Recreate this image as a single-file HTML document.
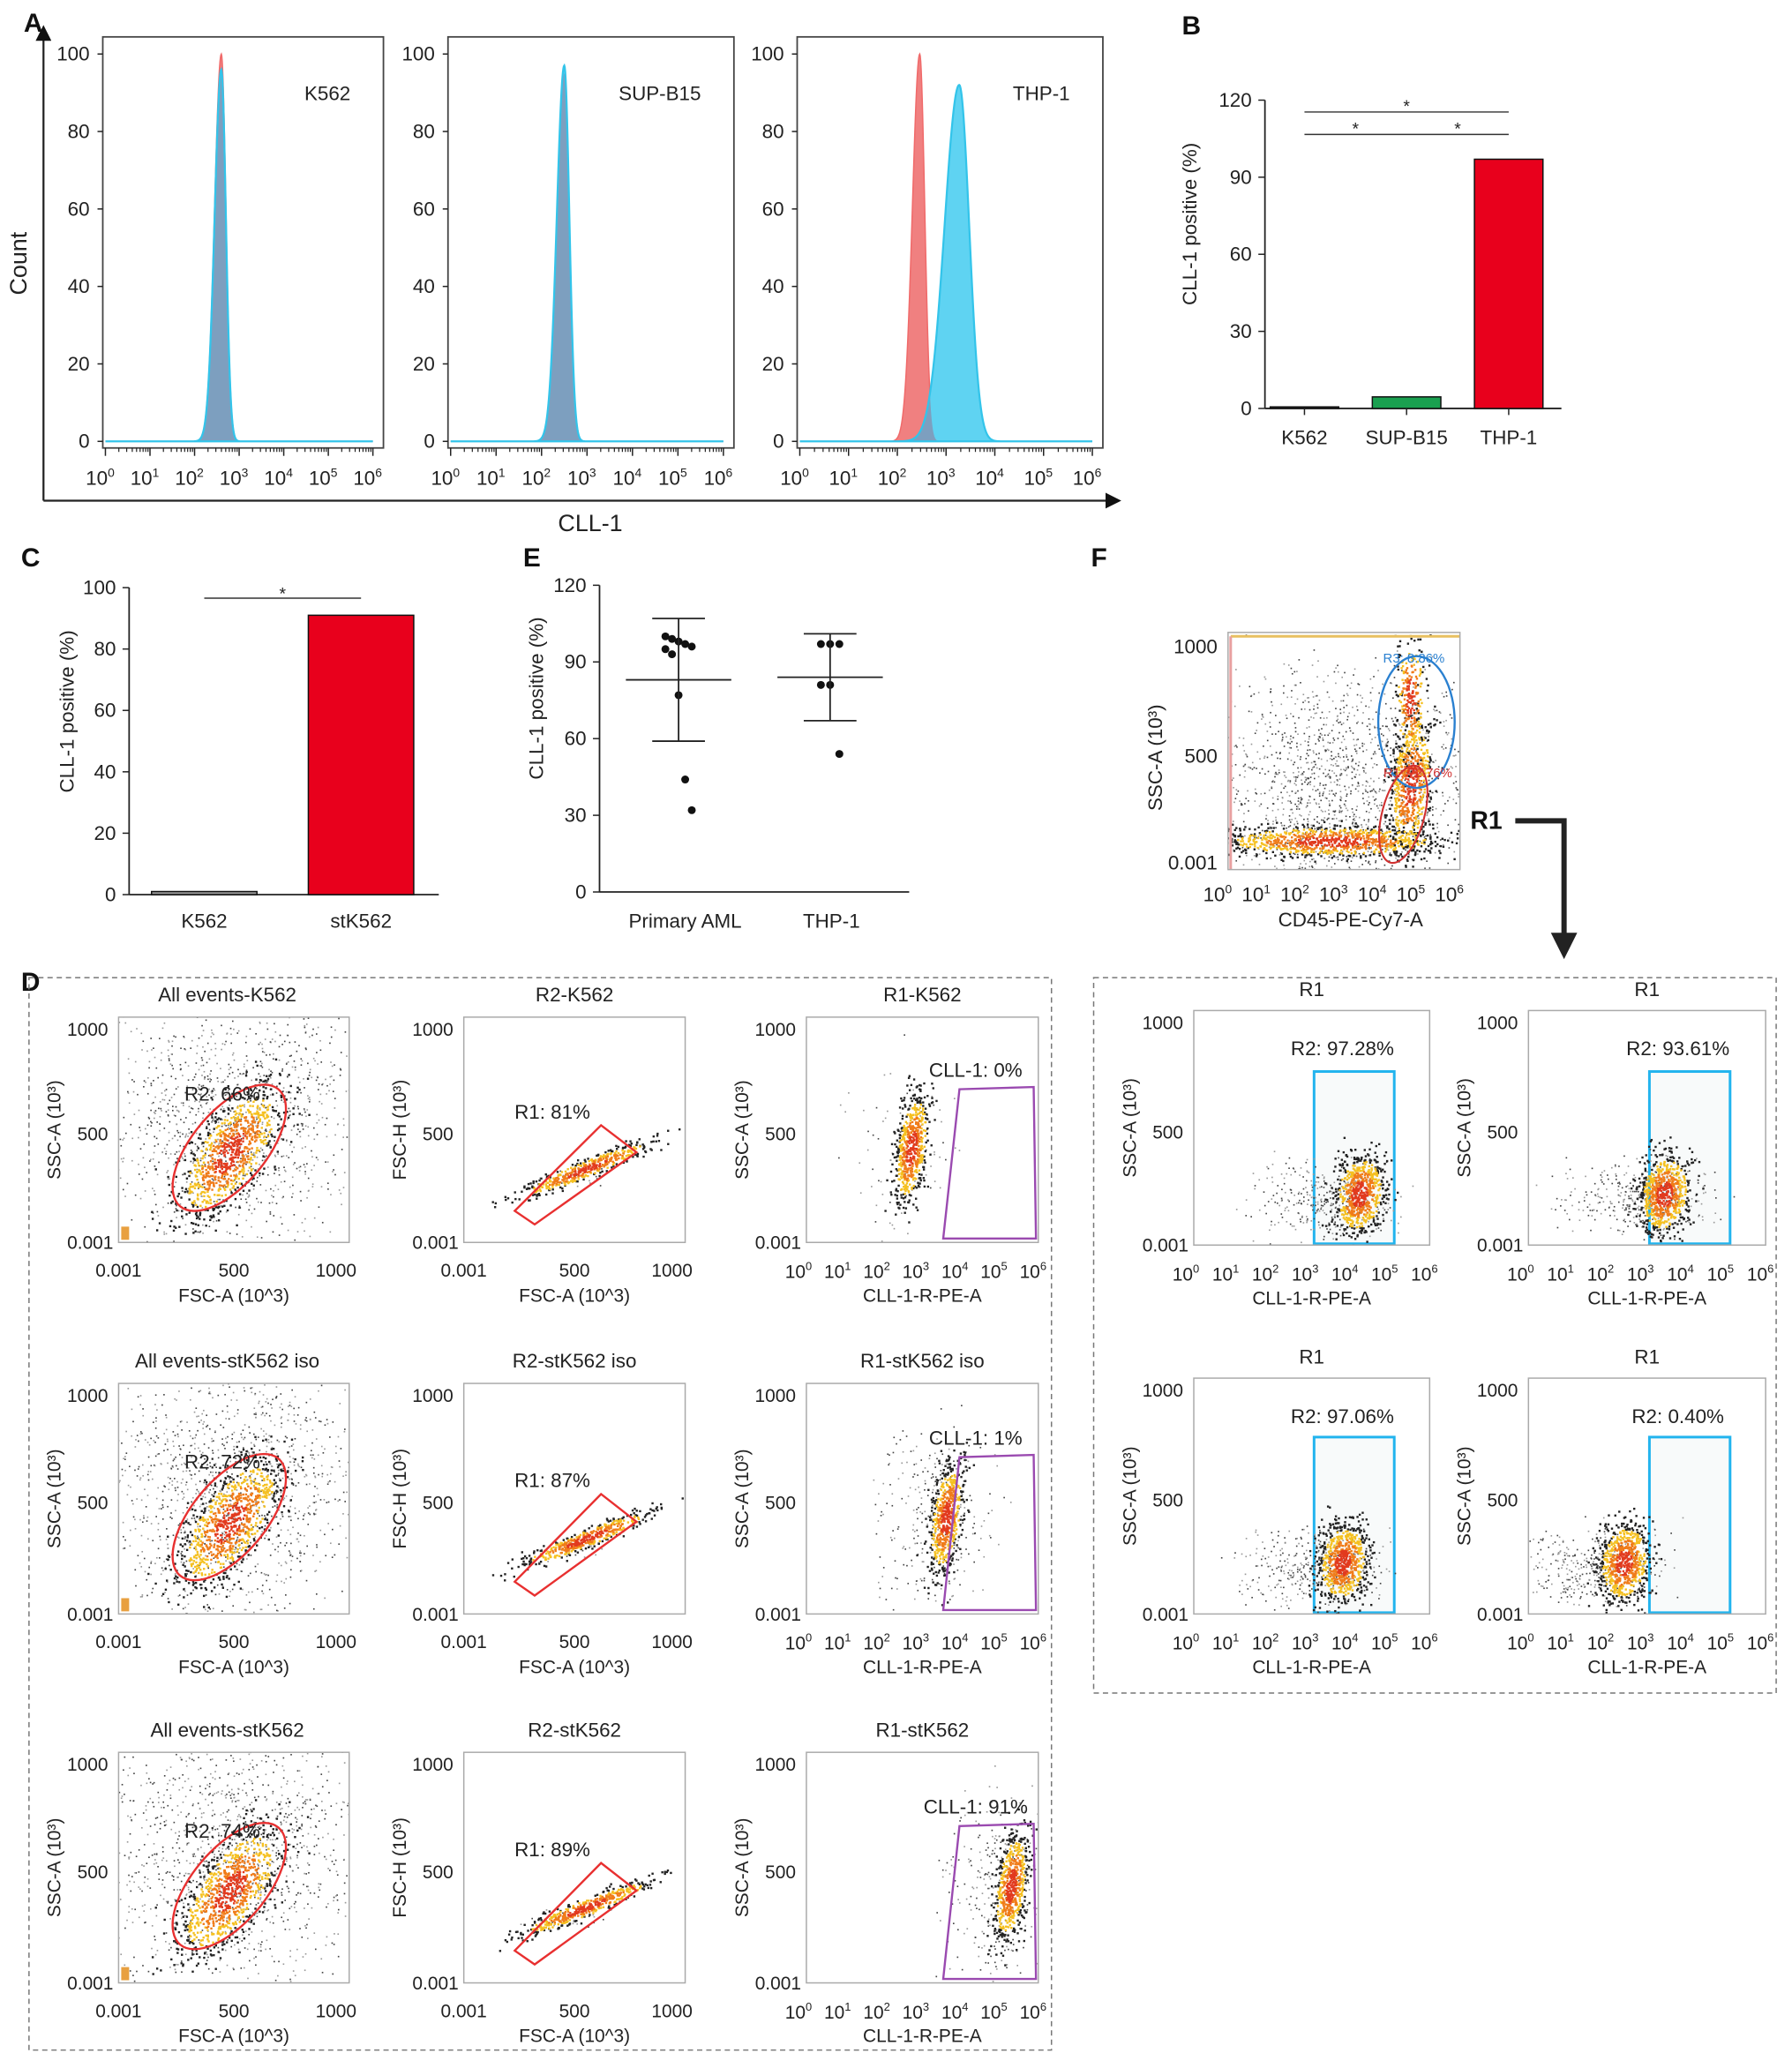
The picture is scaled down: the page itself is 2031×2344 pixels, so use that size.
<!DOCTYPE html>
<html><head><meta charset="utf-8">
<style>
html,body{margin:0;padding:0;background:#fff;}
svg{display:block;font-family:"Liberation Sans",sans-serif;}
</style></head>
<body>
<svg id="s" width="2031" height="2344" viewBox="0 0 1360 1569.6" xmlns="http://www.w3.org/2000/svg">
<defs id="defs">
<marker id="ah" markerWidth="8" markerHeight="8" refX="6" refY="4" orient="auto"><path d="M0,0 L8,4 L0,8 z" fill="#111"/></marker>
</defs>
</svg>
<script>
// ---------- data ----------
const histLabels = ["K562","SUP-B15","THP-1"];
const histRedCenters = [2.6, 2.5, 2.46];
const histCyanCenters = [2.6, 2.5, 3.27];
const histRedSigmas = [0.12, 0.13, 0.12];
const histCyanSigmas = [0.12, 0.13, 0.24];
const histRedHeights = [100, 95, 100];
const histCyanHeights = [96, 97, 92];
const histYTicks = [0,20,40,60,80,100];

const bCats = ["K562","SUP-B15","THP-1"];
const bValues = [0.6, 4.5, 97];
const bYTicks = [0,30,60,90,120];

const cCats = ["K562","stK562"];
const cValues = [1, 91];
const cYTicks = [0,20,40,60,80,100];

const eCats = ["Primary AML","THP-1"];
const eAmlPoints = [100,99,98,97,96,95,93,77,44,32];
const eThpPoints = [97,97,97,81,81,54];
const eMeans = [83, 84];
const eSDs = [24, 17];
const eYTicks = [0,30,60,90,120];

const dTitles = ["All events-K562","R2-K562","R1-K562","All events-stK562 iso","R2-stK562 iso","R1-stK562 iso","All events-stK562","R2-stK562","R1-stK562"];
const dGateLabels = ["R2: 66%","R1: 81%","CLL-1: 0%","R2: 72%","R1: 87%","CLL-1: 1%","R2: 74%","R1: 89%","CLL-1: 91%"];
const fGateLabels = ["R2: 97.28%","R2: 93.61%","R2: 97.06%","R2: 0.40%"];

// ---------- helpers ----------
const S = document.getElementById('s');
const DEFS = document.getElementById('defs');
const NS = "http://www.w3.org/2000/svg";
function mk(tag, attrs, parent){
  const e = document.createElementNS(NS, tag);
  for (const k in attrs) e.setAttribute(k, attrs[k]);
  (parent||S).appendChild(e);
  return e;
}
function txt(x,y,str,size,anchor,name,parent,extra){
  const t = mk('text',Object.assign({x:x,y:y,'font-size':size,'text-anchor':anchor||'middle',fill:'#222'},extra||{}),parent);
  t.textContent = str;
  
  
  return t;
}
function sup(x,y,base,ex,size,name,parent){
  const t = mk('text',{x:x,y:y,'font-size':size,'text-anchor':'middle',fill:'#222'},parent);
  
  
  const a = mk('tspan',{},t); a.textContent = base;
  const b = mk('tspan',{dy:-6,'font-size':size*0.62},t); b.textContent = ex;
  return t;
}
function line(x1,y1,x2,y2,stroke,w,parent){
  return mk('line',{x1:x1,y1:y1,x2:x2,y2:y2,stroke:stroke||'#222','stroke-width':w||1},parent);
}
function rotLabel(x,y,str,size,name,parent){
  return txt(x,y,str,size,'middle',name,parent,{transform:'rotate(-90 '+x+' '+y+')'});
}
let clipN = 0;
function clipRect(x1,y1,x2,y2){
  clipN++;
  const cp = mk('clipPath',{id:'cp'+clipN},DEFS);
  mk('rect',{x:x1,y:y1,width:x2-x1,height:y2-y1},cp);
  return 'url(#cp'+clipN+')';
}
let seed = 12345;
function rnd(){ seed = (seed*1103515245 + 12345) % 2147483648; return seed/2147483648; }
function gauss(){ return (rnd()+rnd()+rnd()+rnd()-2)*1.73; }

// panel letters
[['A',18,24],['B',897,26],['C',16,430],['E',397,430],['F',828,430],['D',16,752]].forEach(function(p){
  txt(p[1],p[2],p[0],20,'start','panel-letter-'+p[0].toLowerCase(),S,{'font-weight':'bold',fill:'#111'});
});

// ---------- Panel A ----------
const gA = mk('g',{});  
const hBoxes = [[78,291],[340,557],[605,837]];
const hTop = 28, hBot = 340, hY0 = 335, hYs = 2.94;
function yH(v){ return hY0 - v*hYs; }
line(33,380,33,22,'#222',1.5,gA).setAttribute('marker-end','url(#ah)');
line(33,380,848,380,'#222',1.5,gA).setAttribute('marker-end','url(#ah)');
rotLabel(20,200,'Count',18,'y-axis-title-count',gA);
txt(448,403,'CLL-1',18,'middle','x-axis-title-cll1',gA);
function peak(l,c,s,h){
  const sl = l<c ? s*1.25 : s*0.85;
  return h*Math.exp(-0.5*Math.pow((l-c)/sl,2));
}
hBoxes.forEach(function(b,i){
  const g = mk('g',{},gA);
  
  
  const ax1 = b[0]+2, ax2 = b[1]-8;
  function xH(l){ return ax1 + (l/6)*(ax2-ax1); }
  function curve(f){
    let d = 'M'+xH(0)+','+hY0;
    for (let l=0;l<=6.0001;l+=0.01){ d += ' L'+xH(l).toFixed(2)+','+yH(f(l)).toFixed(2); }
    return d + ' L'+xH(6)+','+hY0+' Z';
  }
  const fr_ = function(l){return peak(l,histRedCenters[i],histRedSigmas[i],histRedHeights[i]);};
  const fc_ = function(l){return peak(l,histCyanCenters[i],histCyanSigmas[i],histCyanHeights[i]);};
  const rp = mk('path',{d:curve(fr_),fill:'#f08080',stroke:'#f06a6a','stroke-width':1},g);
   
  const cp = mk('path',{d:curve(fc_),fill:'#5fd3f2',stroke:'none'},g);
   
  const op = mk('path',{d:curve(function(l){return Math.min(fr_(l),fc_(l));}),fill:'#7d9fbf',stroke:'none'},g);
   
  const cl = mk('path',{d:curve(fc_),fill:'none',stroke:'#33c4ea','stroke-width':1.5},g);
   
  const fr = mk('rect',{x:b[0],y:hTop,width:b[1]-b[0],height:hBot-hTop,fill:'none',stroke:'#444','stroke-width':1.2},g);
   
  histYTicks.forEach(function(v){
    line(b[0]-4,yH(v),b[0],yH(v),'#222',1,g);
    txt(b[0]-10,yH(v)+5,String(v),15,'end','y-tick-label',g);
  });
  for (let k=0;k<=6;k++){
    line(xH(k),hBot,xH(k),hBot+6,'#222',1,g);
    sup(xH(k)-4,hBot+28,'10',String(k),15,'x-tick-label',g);
    if(k<6) for(let m=2;m<10;m++){ const xx=xH(k+Math.log10(m)); line(xx,hBot,xx,hBot+3,'#222',0.8,g); }
  }
  txt(b[1]-25,76,histLabels[i],15,'end','histogram-label',g);
});

// ---------- Panel B ----------
const gB = mk('g',{});  
const bX0=960, bY0=310, bYs=1.95;
function yB(v){ return bY0 - v*bYs; }
line(bX0,yB(120),bX0,bY0,'#222',1.2,gB);
line(bX0,bY0,1185,bY0,'#222',1.2,gB);
bYTicks.forEach(function(v){ line(bX0-5,yB(v),bX0,yB(v),'#222',1,gB); txt(bX0-10,yB(v)+5,String(v),15,'end','y-tick-label',gB); });
rotLabel(908,170,'CLL-1 positive (%)',15,'y-axis-title',gB);
const bColors = ['#333','#1aa050','#e8001c'];
function xB(i){ return 990 + i*77.5; }
bCats.forEach(function(c,i){
  const r = mk('rect',{x:xB(i)-26,y:yB(bValues[i]),width:52,height:bValues[i]*bYs,fill:bColors[i],stroke:'#111','stroke-width':1},gB);
  
  
  line(xB(i),bY0,xB(i),bY0+5,'#222',1,gB);
  txt(xB(i),bY0+27,c,15,'middle','x-tick-label',gB);
});
line(xB(0),85,xB(2),85,'#333',1,gB); txt((xB(0)+xB(2))/2,85,'*',13,'middle','significance-star',gB);
line(xB(0),102,xB(2),102,'#333',1,gB); txt((xB(0)+xB(1))/2,102,'*',13,'middle','significance-star',gB); txt((xB(1)+xB(2))/2,102,'*',13,'middle','significance-star',gB);

// ---------- Panel C ----------
const gC = mk('g',{});  
const cX0=98, cY0=679, cYs=2.33;
function yC(v){ return cY0 - v*cYs; }
line(cX0,yC(100),cX0,cY0,'#222',1.2,gC);
line(cX0,cY0,333,cY0,'#222',1.2,gC);
cYTicks.forEach(function(v){ line(cX0-5,yC(v),cX0,yC(v),'#222',1,gC); txt(cX0-10,yC(v)+5,String(v),15,'end','y-tick-label',gC); });
rotLabel(56,540,'CLL-1 positive  (%)',15,'y-axis-title',gC);
const cColors = ['#999','#e8001c'];
function xC(i){ return 155 + i*119; }
cCats.forEach(function(c,i){
  const r = mk('rect',{x:xC(i)-40,y:yC(cValues[i]),width:80,height:cValues[i]*cYs,fill:cColors[i],stroke:'#111','stroke-width':1},gC);
  
  
  txt(xC(i),cY0+25,c,15,'middle','x-tick-label',gC);
});
line(xC(0),454,xC(1),454,'#333',1,gC); txt((xC(0)+xC(1))/2,455,'*',13,'middle','significance-star',gC);

// ---------- Panel E ----------
const gE = mk('g',{});  
const eX0=455, eY0=677, eYs=1.94;
function yE(v){ return eY0 - v*eYs; }
line(eX0,yE(120),eX0,eY0,'#222',1.2,gE);
line(eX0,eY0,690,eY0,'#222',1.2,gE);
eYTicks.forEach(function(v){ line(eX0-5,yE(v),eX0,yE(v),'#222',1,gE); txt(eX0-10,yE(v)+5,String(v),15,'end','y-tick-label',gE); });
rotLabel(412,530,'CLL-1 positive (%)',15,'y-axis-title',gE);
function xE(i){ return 515 + i*115; }
[eAmlPoints,eThpPoints].forEach(function(pts,i){
  const cx = xE(i);
  pts.forEach(function(v,j){
    const off = (i===0) ? ((j%5)-2)*5 : ((j%3)-1)*7;
    const d = mk('circle',{cx:cx+off,cy:yE(v),r:3,fill:'#111'},gE);
    
    
  });
  line(cx-40,yE(eMeans[i]),cx+40,yE(eMeans[i]),'#222',1.2,gE);
  line(cx,yE(eMeans[i]+eSDs[i]),cx,yE(eMeans[i]-eSDs[i]),'#222',1.2,gE);
  line(cx-20,yE(eMeans[i]+eSDs[i]),cx+20,yE(eMeans[i]+eSDs[i]),'#222',1.2,gE);
  line(cx-20,yE(eMeans[i]-eSDs[i]),cx+20,yE(eMeans[i]-eSDs[i]),'#222',1.2,gE);
  txt(cx+(i===0?5:1),eY0+27,eCats[i],15,'middle','x-tick-label',gE);
});

// ---------- density cloud ----------
function cloud(g,cx,cy,sx,sy,rot,n,nGray,gsx,gsy,gcx,gcy,clip){
  const cg = mk('g',clip?{'clip-path':clip}:{},g);
  
  
  const ca=Math.cos(rot*Math.PI/180), sa=Math.sin(rot*Math.PI/180);
  for(let k=0;k<nGray;k++){
    const x=(gcx||cx)+gauss()*gsx, y=(gcy||cy)+gauss()*gsy;
    mk('rect',{x:x,y:y,width:1.1,height:1.1,fill:rnd()<0.5?'#444':'#999'},cg);
  }
  const pts=[];
  for(let k=0;k<n;k++){ const u=gauss(), v=gauss(); pts.push([u,v,Math.sqrt(u*u+v*v)]); }
  pts.sort(function(a,b){return b[2]-a[2];});
  pts.forEach(function(p){
    const u=p[0]*sx, v=p[1]*sy;
    const x=cx+u*ca-v*sa, y=cy+u*sa+v*ca;
    const r=p[2]; const col = r<0.6?'#e23a1e':(r<1.1?'#f07c1a':(r<1.6?'#f5c020':'#222'));
    mk('rect',{x:x,y:y,width:1.6,height:1.6,fill:col},cg);
  });
}
function frame(g,x1,y1,x2,y2){
  const r = mk('rect',{x:x1,y:y1,width:x2-x1,height:y2-y1,fill:'none',stroke:'#aaa','stroke-width':1},g);
   
}
function linTicks(g,x1,y1,x2,y2,xlab,ylab){
  txt(x1-8,y1+14,'1000',14,'end','y-tick-label',g);
  txt(x1-8,(y1+y2)/2+8,'500',14,'end','y-tick-label',g);
  txt(x1-4,y2+5,'0.001',14,'end','y-tick-label',g);
  txt(x1,y2+26,'0.001',14,'middle','x-tick-label',g);
  txt((x1+x2)/2,y2+26,'500',14,'middle','x-tick-label',g);
  txt(x2-10,y2+26,'1000',14,'middle','x-tick-label',g);
  txt((x1+x2)/2,y2+45,xlab,14,'middle','x-axis-title',g);
  rotLabel(x1-44,(y1+y2)/2,ylab,14,'y-axis-title',g);
}
function logTicks(g,x1,y1,x2,y2,xlab,ylab){
  txt(x1-8,y1+14,'1000',14,'end','y-tick-label',g);
  txt(x1-8,(y1+y2)/2+8,'500',14,'end','y-tick-label',g);
  txt(x1-4,y2+5,'0.001',14,'end','y-tick-label',g);
  for(let k=0;k<=6;k++){ sup(x1-6+k*(x2-x1+2)/6,y2+27,'10',String(k),14,'x-tick-label',g); }
  txt((x1+x2)/2,y2+45,xlab,14,'middle','x-axis-title',g);
  rotLabel(x1-44,(y1+y2)/2,ylab,14,'y-axis-title',g);
}

// ---------- Panel D ----------
const gD = mk('g',{});  
const dBox = mk('rect',{x:22,y:742,width:776,height:814,fill:'none',stroke:'#777','stroke-width':1,'stroke-dasharray':'4 3'},gD);
 
const dRows=[[772,943],[1050,1225],[1330,1505]];
const dCols=[[90,265],[352,520],[612,788]];
dRows.forEach(function(ry,r){
  dCols.forEach(function(cx,c){
    const idx=r*3+c;
    const g = mk('g',{},gD);
    
    
    const x1=cx[0],x2=cx[1],y1=ry[0],y2=ry[1];
    const w=x2-x1,h=y2-y1;
    const clip = clipRect(x1,y1,x2,y2);
    txt((x1+x2)/2+(c===0?-5:0),y1-12,dTitles[idx],15,'middle','plot-title',g);
    if(c===0){
      cloud(g,x1+w*0.48,y1+h*0.6,13,30,35,900,1300,w*0.3,h*0.3,x1+w*0.5,y1+h*0.45,clip);
      mk('rect',{x:x1+2,y:y2-12,width:6,height:10,fill:'#e8a040'},g);
      const el = mk('ellipse',{cx:x1+w*0.48,cy:y1+h*0.58,rx:28,ry:58,transform:'rotate(40 '+(x1+w*0.48)+' '+(y1+h*0.58)+')',fill:'none',stroke:'#e83030','stroke-width':1.6},g);
       
      txt(x1+w*0.45,y1+h*0.37,dGateLabels[idx],15,'middle','gate-label',g);
      linTicks(g,x1,y1,x2,y2,'FSC-A (10^3)','SSC-A (10³)');
    } else if(c===1){
      cloud(g,x1+w*0.55,y1+h*0.67,28,3.5,-22,450,20,15,5,x1+w*0.5,y1+h*0.72,clip);
      const p = mk('polygon',{points:[[x1+w*0.23,y1+h*0.86],[x1+w*0.62,y1+h*0.48],[x1+w*0.78,y1+h*0.6],[x1+w*0.32,y1+h*0.92]].map(function(q){return q.join(',');}).join(' '),fill:'none',stroke:'#e83030','stroke-width':1.6},g);
       
      txt(x1+w*0.4,y1+h*0.45,dGateLabels[idx],15,'middle','gate-label',g);
      linTicks(g,x1,y1,x2,y2,'FSC-A (10^3)','FSC-H (10³)');
    } else {
      const off = r===2 ? 0.88 : (r===1?0.6:0.45);
      cloud(g,x1+w*off,y1+h*0.58,6,22,8,600,r===0?80:300,w*0.12,h*0.2,x1+w*(off-0.05),y1+h*0.6,clip);
      const p = mk('polygon',{points:[[x1+w*0.59,y2-3],[x1+w*0.66,y1+h*0.32],[x1+w*0.98,y1+h*0.31],[x1+w*0.99,y2-3]].map(function(q){return q.join(',');}).join(' '),fill:'none',stroke:'#9a4ab0','stroke-width':1.6},g);
       
      txt(x1+w*0.73,y1+h*0.3-6,dGateLabels[idx],15,'middle','gate-label',g);
      logTicks(g,x1,y1,x2,y2,'CLL-1-R-PE-A','SSC-A (10³)');
    }
    frame(g,x1,y1,x2,y2);
  });
});

// ---------- Panel F ----------
const gF = mk('g',{});  
(function(){
  const x1=932,y1=480,x2=1108,y2=660;
  const clip = clipRect(x1,y1,x2,y2);
  cloud(gF,1010,638,45,6,0,900,1600,50,45,1020,600,clip);
  cloud(gF,1070,595,8,28,5,600,0,1,1,1070,595,clip);
  cloud(gF,1070,530,6,25,0,250,0,1,1,1070,530,clip);
  mk('line',{x1:x1+2,y1:y1+3,x2:x2,y2:y1+3,stroke:'#e8c060','stroke-width':2},gF);
  mk('line',{x1:x1+2,y1:y1+3,x2:x1+2,y2:y2,stroke:'#e8a0a0','stroke-width':2},gF);
  frame(gF,x1,y1,x2,y2);
  const e1 = mk('ellipse',{cx:1075,cy:548,rx:29,ry:50,fill:'none',stroke:'#2a80d0','stroke-width':1.6},gF);
   
  const e2 = mk('ellipse',{cx:1065,cy:618,rx:16,ry:38,transform:'rotate(15 1065 618)',fill:'none',stroke:'#d03030','stroke-width':1.4},gF);
   
  txt(1073,503,'R3: 8.86%',10,'middle','gate-label-r3',gF,{fill:'#2a80d0'});
  txt(1076,590,'R1: 72.76%',10,'middle','gate-label-r1',gF,{fill:'#d03030'});
  txt(x1-8,y1+16,'1000',15,'end','y-tick-label',gF);
  txt(x1-8,y1+99,'500',15,'end','y-tick-label',gF);
  txt(x1-8,y2,'0.001',15,'end','y-tick-label',gF);
  for(let k=0;k<=6;k++){ sup(x1-8+k*(x2-x1)/6,y2+24,'10',String(k),15,'x-tick-label',gF); }
  txt(1025,703,'CD45-PE-Cy7-A',15,'middle','x-axis-title',gF);
  rotLabel(882,575,'SSC-A (10³)',15,'y-axis-title',gF);
  txt(1128,629,'R1',19,'middle','r1-arrow-label',gF,{'font-weight':'bold',fill:'#111'});
  const ar = mk('path',{d:'M1150,623 L1187,623 L1187,712',fill:'none',stroke:'#222','stroke-width':4},gF);
   
  mk('polygon',{points:'1177,708 1197,708 1187,728',fill:'#222'},gF);
})();
const fBoxB = mk('rect',{x:830,y:742,width:518,height:543,fill:'none',stroke:'#777','stroke-width':1,'stroke-dasharray':'4 3'},gF);
 
const fCols=[[906,1085],[1160,1340]], fRows=[[767,945],[1046,1225]];
fRows.forEach(function(ry,r){
  fCols.forEach(function(cx,c){
    const idx=r*2+c;
    const g = mk('g',{},gF);
    
    
    const x1=cx[0],x2=cx[1],y1=ry[0],y2=ry[1],w=x2-x1,h=y2-y1;
    const clip = clipRect(x1,y1,x2,y2);
    const gx1=x1+w*0.51, gx2=x1+w*0.85;
    const gr = mk('rect',{x:gx1,y:y1+h*(r===0?0.26:0.25),width:gx2-gx1,height:h*(r===0?0.74:0.75)-1,fill:'#f8fafa',stroke:'#22b4ee','stroke-width':2},g);
     
    const ccx = [x1+w*0.7, x1+w*0.57, x1+w*0.63, x1+w*0.4][idx];
    cloud(g,ccx,y1+h*0.78,10,16,8,700,350,w*0.15,h*0.08,ccx-w*0.12,y1+h*0.8,clip);
    frame(g,x1,y1,x2,y2);
    txt((x1+x2)/2,y1-11,'R1',15,'middle','plot-title',g);
    txt(x1+w*0.63,y1+h*0.19,fGateLabels[idx],15,'middle','gate-label',g);
    logTicks(g,x1,y1,x2,y2,'CLL-1-R-PE-A','SSC-A (10³)');
  });
});
</script>
</body></html>
